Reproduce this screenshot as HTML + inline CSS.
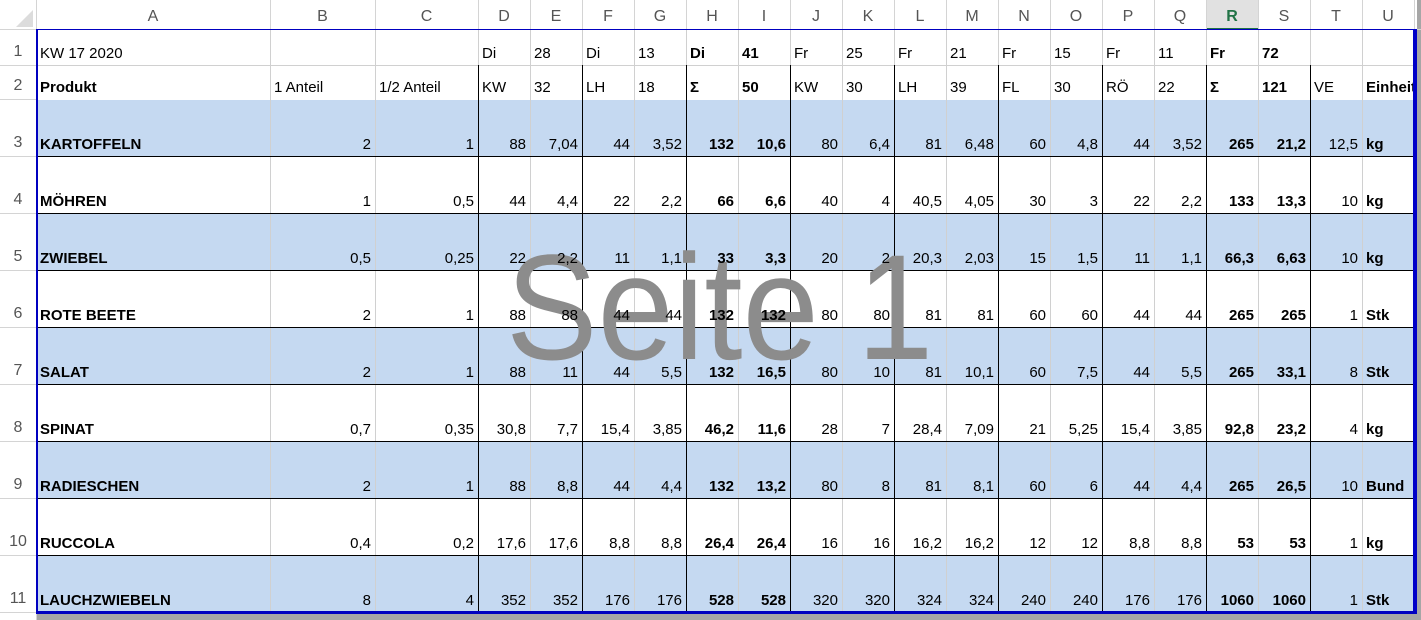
<!DOCTYPE html>
<html><head><meta charset="utf-8">
<style>
html,body{margin:0;padding:0;background:#fff;}
#wrap{position:relative;width:1421px;height:620px;overflow:hidden;font-family:"Liberation Sans",Arial,sans-serif;}
.c{position:absolute;box-sizing:border-box;font-size:15px;color:#000;white-space:nowrap;z-index:3;line-height:15px;}
.b{font-weight:bold;}
.bg{position:absolute;z-index:0;}
.ln{position:absolute;z-index:1;}
.hd{position:absolute;font-size:16px;color:#555;text-align:center;z-index:3;}
#wm{position:absolute;left:506px;top:232px;font-size:150px;color:#8c8c8c;z-index:2;line-height:150px;transform:scaleX(0.915);transform-origin:0 0;}
</style></head>
<body>
<div id="wrap">
<div id="wm">Seite 1</div>
</div>
<script>
const colLetters=["A","B","C","D","E","F","G","H","I","J","K","L","M","N","O","P","Q","R","S","T","U"];
const row1=["KW 17 2020","","","Di","28","Di","13","Di","41","Fr","25","Fr","21","Fr","15","Fr","11","Fr","72","",""];
const row2=["Produkt","1 Anteil","1/2 Anteil","KW","32","LH","18","Σ","50","KW","30","LH","39","FL","30","RÖ","22","Σ","121","VE","Einheit"];
const products=["KARTOFFELN","MÖHREN","ZWIEBEL","ROTE BEETE","SALAT","SPINAT","RADIESCHEN","RUCCOLA","LAUCHZWIEBELN"];
const values=[
["2","1","88","7,04","44","3,52","132","10,6","80","6,4","81","6,48","60","4,8","44","3,52","265","21,2","12,5","kg"],
["1","0,5","44","4,4","22","2,2","66","6,6","40","4","40,5","4,05","30","3","22","2,2","133","13,3","10","kg"],
["0,5","0,25","22","2,2","11","1,1","33","3,3","20","2","20,3","2,03","15","1,5","11","1,1","66,3","6,63","10","kg"],
["2","1","88","88","44","44","132","132","80","80","81","81","60","60","44","44","265","265","1","Stk"],
["2","1","88","11","44","5,5","132","16,5","80","10","81","10,1","60","7,5","44","5,5","265","33,1","8","Stk"],
["0,7","0,35","30,8","7,7","15,4","3,85","46,2","11,6","28","7","28,4","7,09","21","5,25","15,4","3,85","92,8","23,2","4","kg"],
["2","1","88","8,8","44","4,4","132","13,2","80","8","81","8,1","60","6","44","4,4","265","26,5","10","Bund"],
["0,4","0,2","17,6","17,6","8,8","8,8","26,4","26,4","16","16","16,2","16,2","12","12","8,8","8,8","53","53","1","kg"],
["8","4","352","352","176","176","528","528","320","320","324","324","240","240","176","176","1060","1060","1","Stk"]
];
const W=document.getElementById('wrap');
const colX=[36,270,375,478,530,582,634,686,738,790,842,894,946,998,1050,1102,1154,1206,1258,1310,1362,1414];
const rowY=[30,65,99,156,213,270,327,384,441,498,555,612];
const boldCols=[7,8,17,18];
function add(cls,css,txt){const d=document.createElement('div');d.className=cls;d.style.cssText=css;if(txt!==undefined)d.textContent=txt;W.appendChild(d);return d;}
let g=add('bg','left:36px;top:613px;width:1385px;height:7px;background:#a6a6a6;');


g=add('bg','left:1417px;top:0px;width:4px;height:620px;background:#a6a6a6;');


for(let r=0;r<products.length;r+=2){
 const s=add('bg','left:37px;top:'+(rowY[r+2]+1)+'px;width:1377px;height:'+(rowY[r+3]-rowY[r+2])+'px;background:#c5d9f1;');
 
 
}
for(let i=0;i<colLetters.length;i++){
 const x=colX[i],w=colX[i+1]-x;
 if(colLetters[i]==="R"){const hb=add('bg','left:'+x+'px;top:0;width:'+w+'px;height:30px;background:#e1e1e1;border-bottom:2px solid #217346;box-sizing:border-box;');
  
  }
 const h=add('hd','left:'+x+'px;top:8px;width:'+w+'px;'+(colLetters[i]==="R"?'color:#217346;font-weight:bold;':''),colLetters[i]);
 
 
 const sep=add('ln','left:'+(x+w)+'px;top:0;width:1px;height:30px;background:#d4d4d4;');
 
 
}
add('ln','left:0;top:29px;width:1421px;height:1px;background:#d4d4d4;');
add('ln','left:36px;top:0;width:1px;height:620px;background:#d4d4d4;');
const tri=add('ln','left:16px;top:10px;width:0;height:0;border-left:17px solid transparent;border-bottom:17px solid #dcdcdc;');


for(let r=0;r<11;r++){
 const y1=rowY[r+1];
 const rn=add('hd','left:0;top:'+(y1-22)+'px;width:36px;',String(r+1));
 
 
 add('ln','left:0;top:'+y1+'px;width:36px;height:1px;background:#d4d4d4;');
}
for(let i=1;i<colX.length-1;i++){
 add('ln','left:'+colX[i]+'px;top:30px;width:1px;height:583px;background:#d0d0d0;');
}
add('ln','left:37px;top:'+rowY[1]+'px;width:1377px;height:1px;background:#d0d0d0;');
[3,5,7,9,11,13,15,17,19].forEach(i=>{
 const l=add('ln','left:'+colX[i]+'px;top:65px;width:1px;height:548px;background:#000;');
 
 
});
for(let r=3;r<11;r++){
 const l=add('ln','left:37px;top:'+rowY[r]+'px;width:1377px;height:1px;background:#000;');
 
 
}
let bo=add('ln','left:36px;top:29px;width:1381px;height:1px;background:#0000c0;z-index:4;');


bo=add('ln','left:36px;top:29px;width:2px;height:585px;background:#0000c0;z-index:4;');


bo=add('ln','left:1413px;top:29px;width:4px;height:585px;background:#0000c8;z-index:4;');


bo=add('ln','left:36px;top:611px;width:1381px;height:3px;background:#0000c0;z-index:4;');


function cell(r,i,txt,bold,right){
 if(txt==="")return;
 const x=colX[i],w=colX[i+1]-x,y1=rowY[r+1];
 const css='left:'+x+'px;top:'+(y1-19)+'px;width:'+w+'px;'+(right?'text-align:right;padding-right:4px;':'padding-left:4px;')+(i===20?'overflow:hidden;width:'+(w-1)+'px;':'');
 const d=add('c'+(bold?' b':''),css,txt);
 
 
}
row1.forEach((t,i)=>cell(0,i,t,boldCols.includes(i),false));
row2.forEach((t,i)=>cell(1,i,t,boldCols.includes(i)||i===0||i===20,false));
products.forEach((p,r)=>{
 cell(r+2,0,p,true,false);
 values[r].forEach((v,j)=>{const i=j+1;cell(r+2,i,v,boldCols.includes(i)||i===20,i!==20);});
});
</script>
</body></html>
